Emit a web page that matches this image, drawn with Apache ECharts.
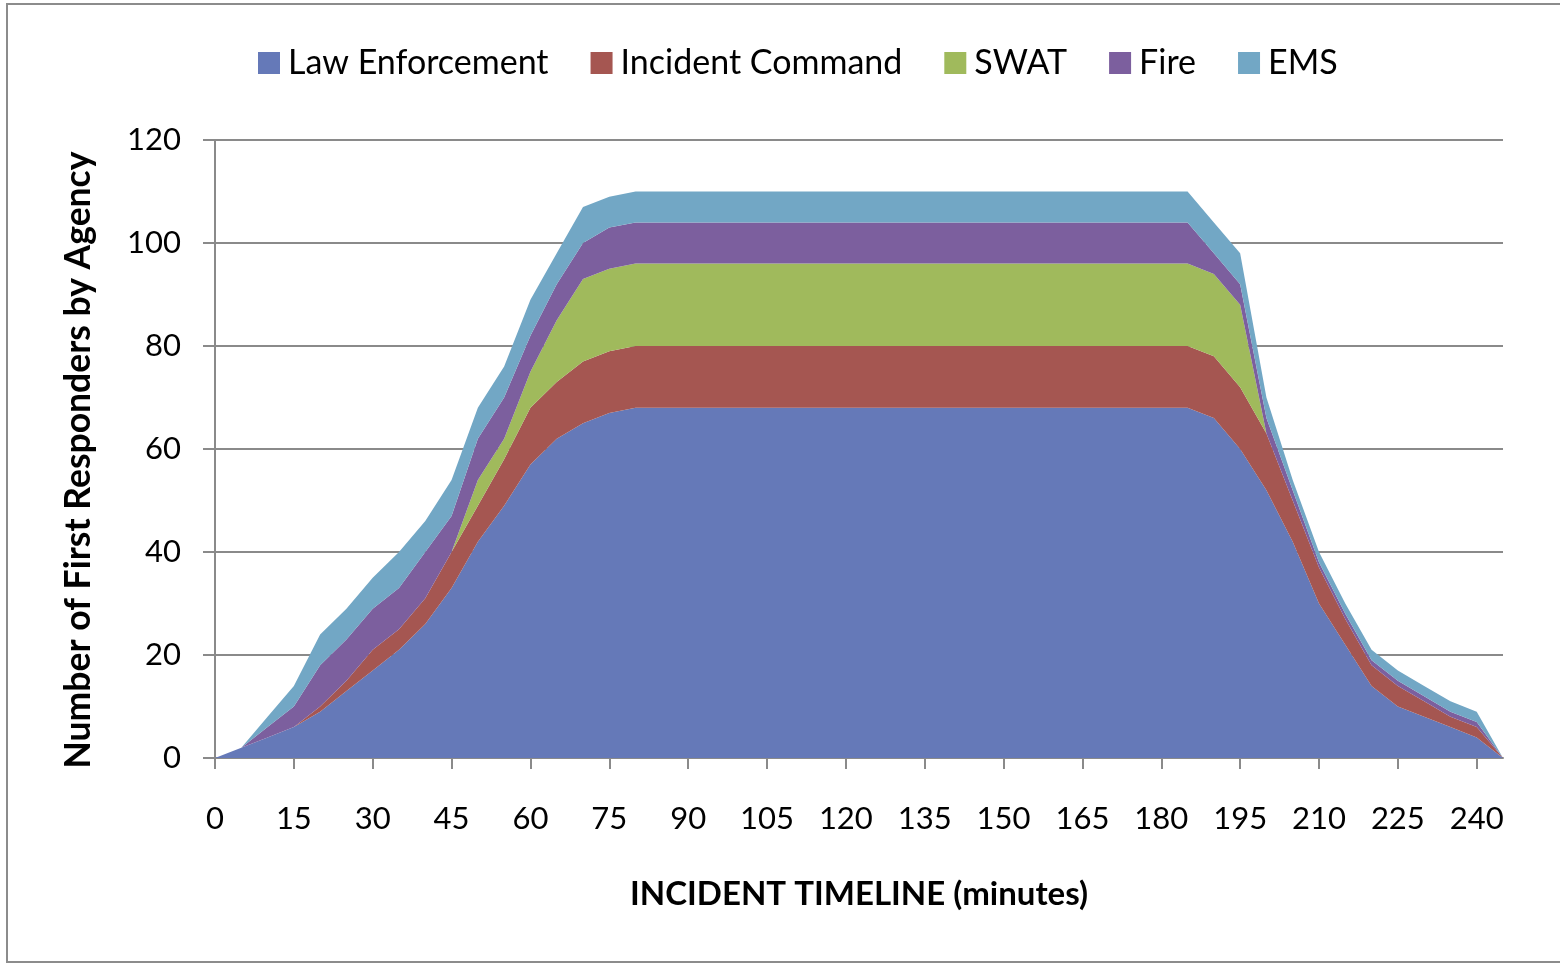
<!DOCTYPE html>
<html><head><meta charset="utf-8">
<script src="https://cdn.jsdelivr.net/npm/echarts@6/dist/echarts.min.js"></script>
<style>html,body{margin:0;padding:0;background:#fff}#c{width:1560px;height:964px}</style>
</head><body><div id="c"></div>
<script>
// Incident timeline, minutes (one category every 5 minutes)
const minutes = ['0','5','10','15','20','25','30','35','40','45','50','55','60','65','70','75',
  '80','85','90','95','100','105','110','115','120','125','130','135','140','145','150','155',
  '160','165','170','175','180','185','190','195','200','205','210','215','220','225','230','235','240','245'];

const lawEnforcement = [0,2,4,6,9,13,17,21,26,33,42,49,57,62,65,67,
  68,68,68,68,68,68,68,68,68,68,68,68,68,68,68,68,68,68,68,68,68,68,
  66,60,52,42,30,22,14,10,8,6,4,0];
const incidentCommand = [0,0,0,0,1,2,4,4,5,7,7,9,11,11,12,12,
  12,12,12,12,12,12,12,12,12,12,12,12,12,12,12,12,12,12,12,12,12,12,
  12,12,11,8,7,5,4,4,3,2,2,0];
const swat = [0,0,0,0,0,0,0,0,0,0,5,4,7,12,16,16,
  16,16,16,16,16,16,16,16,16,16,16,16,16,16,16,16,16,16,16,16,16,16,
  16,16,0,0,0,0,0,0,0,0,0,0];
const fire = [0,0,2,4,8,8,8,8,9,7,8,8,7,7,7,8,
  8,8,8,8,8,8,8,8,8,8,8,8,8,8,8,8,8,8,8,8,8,8,
  4,4,3,2,1,1,1,1,1,1,1,0];
const ems = [0,0,2,4,6,6,6,7,6,7,6,6,7,6,7,6,
  6,6,6,6,6,6,6,6,6,6,6,6,6,6,6,6,6,6,6,6,6,6,
  6,6,4,2,2,2,2,2,2,2,2,0];

const seriesNames = ['Law Enforcement','Incident Command','SWAT','Fire','EMS'];
const seriesData = [lawEnforcement, incidentCommand, swat, fire, ems];
const seriesColors = ['#6579B8','#A55651','#A0BA5C','#7C5F9E','#72A7C5'];

const FONT = 'Lato, "Open Sans", sans-serif';
const GRID = '#8a8a8a';

const chart = echarts.init(document.getElementById('c'), null, {renderer:'canvas'});
chart.setOption({
  animation:false,
  backgroundColor:'#fff',
  graphic:[{type:'rect', shape:{x:7,y:4,width:1600,height:958}, style:{fill:'none', stroke:'#8c8c8c', lineWidth:2}, silent:true}],
  color: seriesColors,
  legend:{
    data: seriesNames,
    left:253, top:41,
    padding:5,
    itemWidth:22, itemHeight:22, itemGap:42,
    icon:'rect',
    textStyle:{fontFamily:FONT, fontSize:34, color:'#000', padding:[0,0,0,3]}
  },
  grid:{left:215, right:57, top:140, bottom:206, containLabel:false},
  xAxis:{
    type:'category', data:minutes, boundaryGap:false,
    name:'INCIDENT TIMELINE (minutes)', nameLocation:'middle', nameGap:120,
    nameTextStyle:{fontFamily:FONT, fontWeight:'bold', fontSize:33, color:'#000'},
    axisLine:{lineStyle:{color:GRID, width:2}},
    axisTick:{show:true, interval:2, length:11, lineStyle:{color:GRID, width:2}},
    axisLabel:{interval:2, margin:45, fontFamily:FONT, fontSize:31, color:'#000'},
    splitLine:{show:false}
  },
  yAxis:{
    type:'value', min:0, max:120, interval:20,
    name:'Number of First Responders by Agency', nameLocation:'middle', nameGap:118,
    nameTextStyle:{fontFamily:FONT, fontWeight:'bold', fontSize:35.5, color:'#000', padding:[0,22,0,0]},
    axisLine:{show:true, lineStyle:{color:GRID, width:2}},
    axisTick:{show:true, length:12, lineStyle:{color:GRID, width:2}},
    axisLabel:{margin:34, fontFamily:FONT, fontSize:31, color:'#000'},
    splitLine:{show:true, lineStyle:{color:GRID, width:2}}
  },
  series: seriesNames.map((n,i)=>({
    name:n, type:'line', stack:'total', data:seriesData[i],
    symbol:'none', smooth:false,
    lineStyle:{width:0},
    areaStyle:{color:seriesColors[i], opacity:1},
    itemStyle:{color:seriesColors[i]},
    z: 2
  }))
});
</script></body></html>
